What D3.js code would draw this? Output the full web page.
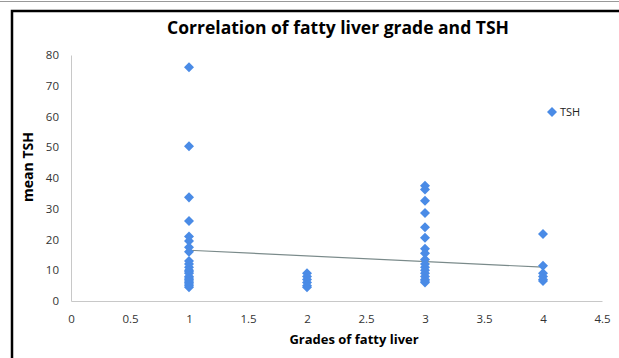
<!DOCTYPE html>
<html>
<head>
<meta charset="utf-8">
<script src="https://cdn.jsdelivr.net/npm/d3@7"></script>
<style>
  body { margin: 0; background: #fff; }
  text { font-family: "Open Sans", "Liberation Sans", sans-serif; }
</style>
</head>
<body>
<div id="chart"></div>
<script>
// TSH readings per fatty liver grade
var grade1 = [76, 50.3, 33.7, 26, 21, 19.5, 17.5, 16, 13, 12, 11, 10, 9.5, 9, 8, 7.5, 7, 6.5, 6, 5.5, 5, 4.5];
var grade2 = [9, 8, 7, 6, 5, 4.5];
var grade3 = [37.5, 36.3, 32.6, 28.6, 24, 20.6, 17, 15.5, 13.5, 12, 11, 10, 9, 8, 7, 6.5, 6];
var grade4 = [21.8, 11.5, 9, 8, 7, 6.5];
var trendX = [1, 4];
var trendY = [16.5, 11];
var xTicks = [0, 0.5, 1, 1.5, 2, 2.5, 3, 3.5, 4, 4.5];
var yTicks = [0, 10, 20, 30, 40, 50, 60, 70, 80];

var points = [];
[grade1, grade2, grade3, grade4].forEach(function(vals, i) {
    vals.forEach(function(v) { points.push({ x: i + 1, y: v }); });
});

var svgWidth = 619, svgHeight = 358;
var svg = d3.select("#chart")
    .append("svg")
    .attr("width", svgWidth)
    .attr("height", svgHeight);

// frame
svg.append("line").attr("x1", 0).attr("x2", svgWidth).attr("y1", 1.5).attr("y2", 1.5)
    .attr("stroke", "#999").attr("stroke-width", 1);
svg.append("path")
    .attr("d", "M12,358V11H619")
    .attr("fill", "none").attr("stroke", "#000").attr("stroke-width", 2.5);

var xScale = d3.scaleLinear().domain([0, 4.5]).range([71, 602]);
var yScale = d3.scaleLinear().domain([0, 80]).range([301, 55]);

// axes
var xAxis = svg.append("g")
    .attr("transform", "translate(0," + yScale(0) + ")")
    .call(d3.axisBottom(xScale).tickValues(xTicks).tickSize(0).tickPadding(14).tickFormat(d3.format("")));
var yAxis = svg.append("g")
    .attr("transform", "translate(" + xScale(0) + ",0)")
    .call(d3.axisLeft(yScale).tickValues(yTicks).tickSize(0).tickPadding(12));
[xAxis, yAxis].forEach(function(ax) {
    ax.select(".domain").attr("stroke", "#c8c8c8");
    ax.selectAll("text").attr("fill", "#333").style("font-size", "11.5px")
        .style("font-family", "'Open Sans', sans-serif");
});

// trend line
svg.append("line")
    .attr("x1", xScale(trendX[0])).attr("y1", yScale(trendY[0]))
    .attr("x2", xScale(trendX[1])).attr("y2", yScale(trendY[1]))
    .attr("stroke", "#7a8a8a").attr("stroke-width", 1.2);

// points
var diamond = d3.symbol().type(d3.symbolDiamond2).size(64);
svg.selectAll(".pt")
    .data(points)
    .enter().append("path")
    .attr("class", "pt")
    .attr("d", diamond)
    .attr("transform", function(d) { return "translate(" + xScale(d.x) + "," + yScale(d.y) + ")"; })
    .attr("fill", "#4a8be6");

// legend
svg.append("path").attr("d", diamond).attr("transform", "translate(552,112)").attr("fill", "#4a8be6");
svg.append("text").attr("x", 560).attr("y", 116).style("font-size", "11px").attr("fill", "#222").text("TSH");

// titles
svg.append("text")
    .attr("x", 338).attr("y", 34)
    .attr("text-anchor", "middle")
    .style("font-size", "17.5px").style("font-weight", "bold")
    .text("Correlation of fatty liver grade and TSH");

svg.append("text")
    .attr("transform", "translate(33,167) rotate(-90)")
    .attr("text-anchor", "middle")
    .style("font-size", "14px").style("font-weight", "bold")
    .text("mean TSH");

svg.append("text")
    .attr("x", 354).attr("y", 344)
    .attr("text-anchor", "middle")
    .style("font-size", "13px").style("font-weight", "bold")
    .text("Grades of fatty liver");
</script>
</body>
</html>
